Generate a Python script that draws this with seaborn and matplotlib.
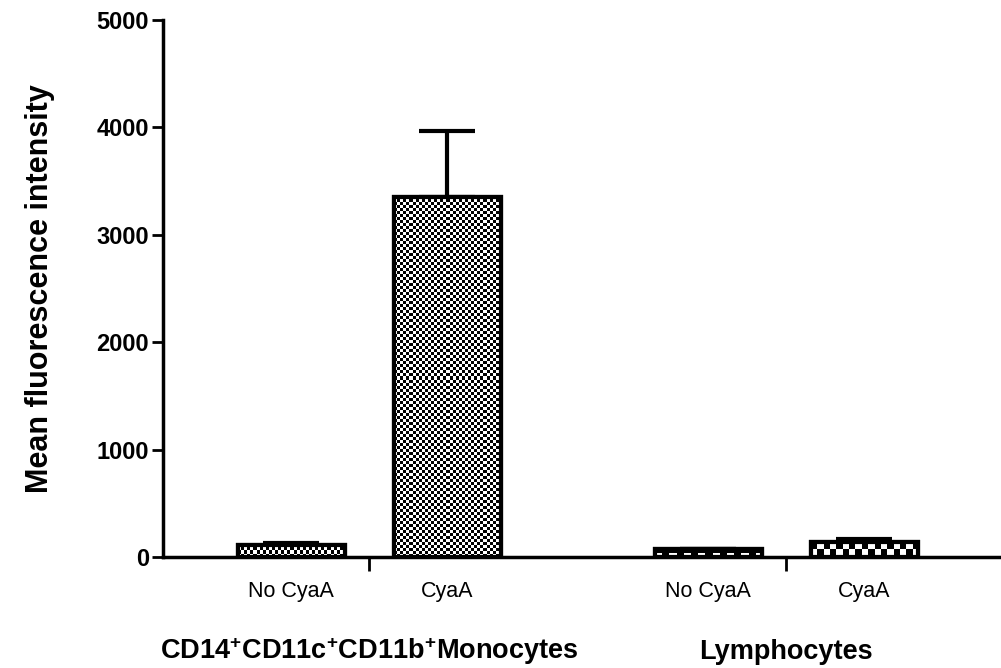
import numpy as np
import pandas as pd
import seaborn as sns
import matplotlib

matplotlib.use("Agg")
import matplotlib.pyplot as plt

# values
groups = ["CD14$^{\\mathbf{+}}$CD11c$^{\\mathbf{+}}$CD11b$^{\\mathbf{+}}$Monocytes", "Lymphocytes"]
treatments = ["No CyaA", "CyaA"]
mfi_mean = [115, 3355, 70, 140]
mfi_sem = [20, 615, 5, 30]
y_ticks = [0, 1000, 2000, 3000, 4000, 5000]

sns.set_style("ticks")
plt.rcParams["font.family"] = ["Liberation Sans", "DejaVu Sans"]
plt.rcParams["mathtext.fontset"] = "custom"
plt.rcParams["mathtext.rm"] = "Liberation Sans"
plt.rcParams["mathtext.bf"] = "Liberation Sans:bold"
plt.rcParams["text.color"] = "black"
plt.rcParams["axes.labelcolor"] = "black"
plt.rcParams["axes.edgecolor"] = "black"
plt.rcParams["xtick.color"] = "black"
plt.rcParams["ytick.color"] = "black"

# bar positions: two bars per group, wider gap between groups
group_gap = 2.673
pos = [g * group_gap + t for g in range(len(groups)) for t in range(len(treatments))]
df = pd.DataFrame({
    "pos": pos,
    "mfi": mfi_mean,
    "label": [t for g in groups for t in treatments],
})

fig = plt.figure(figsize=(10.01, 6.68), dpi=100)
ax = fig.add_axes([163 / 1001, 1 - 557 / 668, 1 - 163 / 1001, (557 - 20) / 668])

sns.barplot(data=df, x="pos", y="mfi", native_scale=True, width=0.686,
            color="white", edgecolor="black", linewidth=3, errorbar=None, ax=ax)

ax.errorbar(df["pos"], df["mfi"], yerr=[np.zeros(len(mfi_sem)), mfi_sem], fmt="none",
            ecolor="black", elinewidth=3, capsize=20, capthick=3, zorder=1)

ax.set_xlim(-0.821, 4.551)
ax.set_ylim(0, 5000)

# checker textures inside the bars (cell sizes in pixels)
textures = [(3, 3, "checker"), (3, 3, "checker"), (7, 3, "dash"), (6, 6, "checker")]
fig.canvas.draw()
for patch, (cw, ch, kind) in zip(list(ax.patches), textures):
    bb = patch.get_window_extent()
    nx = max(int(bb.width / cw), 1)
    ny = max(int(bb.height / ch), 1)
    ii, jj = np.indices((ny, nx))
    if kind == "checker":
        img = ((ii + jj) % 2).astype(float)
    else:
        img = ((ii % 2 == 1) & (jj % 2 == 0)).astype(float)
    x0, y0 = patch.get_x(), patch.get_y()
    w, h = patch.get_width(), patch.get_height()
    im = ax.imshow(img, cmap="gray", vmin=0, vmax=1, extent=(x0, x0 + w, y0, y0 + h),
                   aspect="auto", interpolation="nearest", zorder=patch.get_zorder() + 0.1)
    im.set_clip_path(patch)
    # redraw outline on top
    ax.add_patch(plt.Rectangle((x0, y0), w, h, fill=False, edgecolor="black",
                               linewidth=3, zorder=patch.get_zorder() + 0.2))

ax.set_xlim(-0.821, 4.551)
ax.set_ylim(0, 5000)

# group separator ticks
sep = [(pos[0] + pos[1]) / 2, (pos[2] + pos[3]) / 2]
ax.set_xticks(sep)
ax.set_xticklabels([])
ax.tick_params(axis="x", direction="out", length=10, width=2)
ax.set_yticks(y_ticks)
ax.set_yticklabels([str(v) for v in y_ticks], fontsize=17, fontweight="bold")
ax.tick_params(axis="y", direction="out", length=8, width=2, pad=2)

for p, lab in zip(pos, df["label"]):
    ax.text(p, -320, lab, ha="center", va="center", fontsize=15.5)
for g, name in enumerate(groups):
    ax.text(sep[g], -880, name, ha="center", va="center", fontsize=19.5, fontweight="bold")

ax.set_xlabel("")
ax.set_ylabel("Mean fluorescence intensity", fontsize=22, fontweight="bold", labelpad=30)

sns.despine(ax=ax)
ax.spines["left"].set_linewidth(2.5)
ax.spines["bottom"].set_linewidth(2.5)

fig.savefig("out.png", dpi=100)
